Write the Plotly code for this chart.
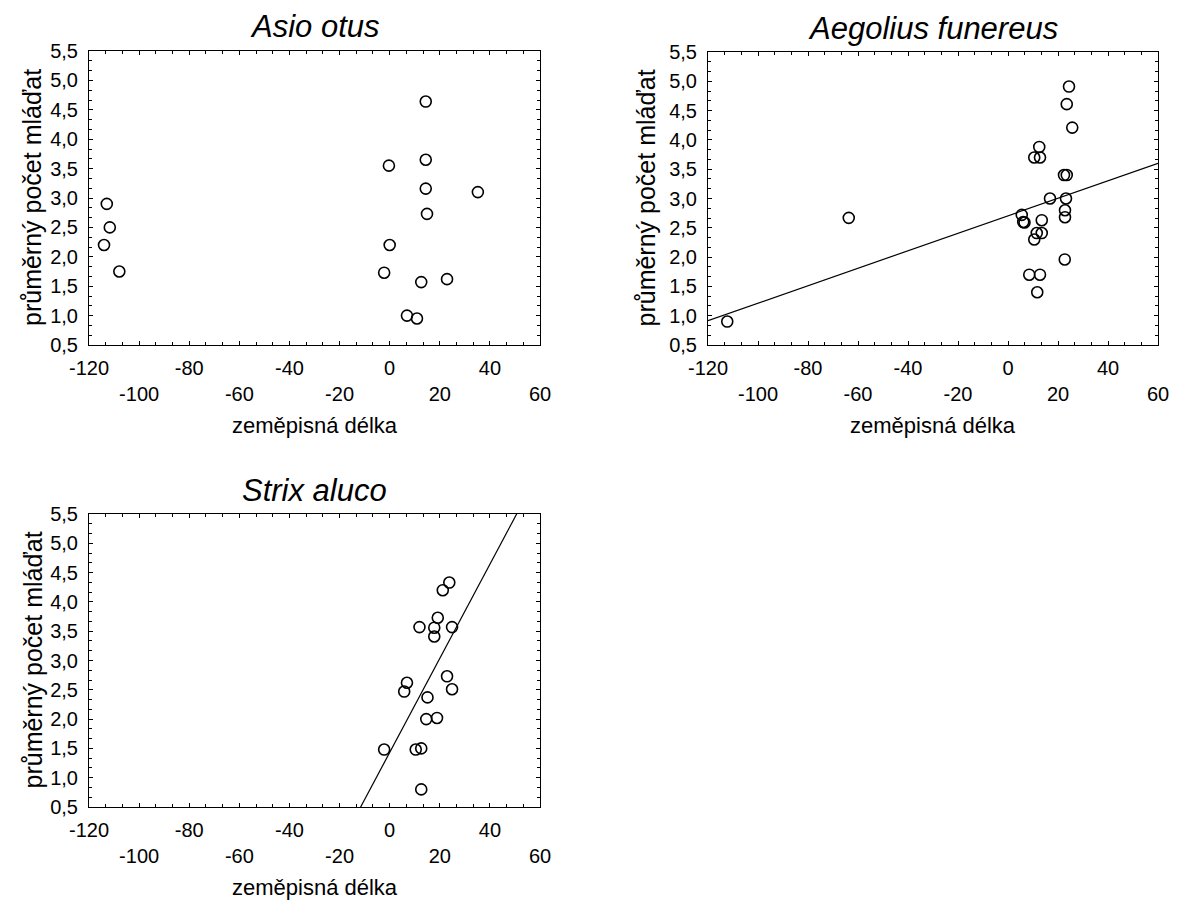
import plotly.graph_objects as go

W, H = 1181, 908

# ---------------- data ----------------
asio_x = [-112.9, -111.7, -114.0, -107.9, -0.3, 0.0, -2.2, 6.9, 10.9, 12.6,
          14.4, 14.4, 14.4, 14.9, 22.9, 35.2]
asio_y = [2.90, 2.50, 2.20, 1.75, 3.55, 2.20, 1.73, 1.00, 0.95, 1.57,
          4.64, 3.65, 3.16, 2.73, 1.62, 3.10]

aeg_x = [-112.3, -63.7, 5.5, 6.1, 6.6, 10.5, 12.5, 12.8, 10.5, 11.5,
         13.5, 13.5, 8.5, 12.8, 11.7, 16.8, 22.4, 23.5, 23.2, 22.8,
         22.8, 22.7, 24.4, 23.5, 25.7]
aeg_y = [0.90, 2.67, 2.72, 2.60, 2.59, 3.70, 3.88, 3.70, 2.30, 2.41,
         2.41, 2.63, 1.70, 1.70, 1.40, 3.00, 3.40, 3.40, 3.00, 2.80,
         2.68, 1.96, 4.91, 4.61, 4.21]
aeg_fit_slope = 0.01492
aeg_fit_intercept = 2.705

strix_x = [-2.2, 5.8, 6.9, 10.4, 12.6, 12.6, 11.9, 14.6, 15.1, 17.8,
           17.8, 19.2, 18.9, 21.2, 23.8, 22.9, 24.9, 24.9]
strix_y = [1.48, 2.47, 2.62, 1.48, 1.50, 0.80, 3.57, 2.00, 2.37, 3.56,
           3.41, 3.73, 2.02, 4.20, 4.33, 2.73, 2.51, 3.57]
strix_fit_slope = 0.0803
strix_fit_intercept = 1.43

x_tick_vals = [-120, -100, -80, -60, -40, -20, 0, 20, 40, 60]
y_tick_vals = [0.5, 1.0, 1.5, 2.0, 2.5, 3.0, 3.5, 4.0, 4.5, 5.0, 5.5]
x_range = [-120, 60]
y_range = [0.5, 5.5]

titles = ["Asio otus", "Aegolius funereus", "Strix aluco"]
x_title = "zeměpisná délka"
y_title = "průměrný počet mláďat"

# ---------------- layout helpers ----------------
FONT = "Liberation Sans, Arial, sans-serif"
panels_px = [  # x0, x1, y0(top), y1(bottom)
    (89, 540, 51, 345),
    (708, 1158, 52, 345),
    (89, 540, 514, 807),
]

def px2paper_x(v):
    return v / W

def px2paper_y(v):
    return 1 - v / H

x_ticktext = [(str(v) if i % 2 == 0 else "<br>" + str(v)) for i, v in enumerate(x_tick_vals)]

fig = go.Figure()

series = [
    (asio_x, asio_y, None),
    (aeg_x, aeg_y, (aeg_fit_slope, aeg_fit_intercept)),
    (strix_x, strix_y, (strix_fit_slope, strix_fit_intercept)),
]

annotations = []
for i, ((xs, ys, fit), (x0, x1, y0, y1)) in enumerate(zip(series, panels_px)):
    n = "" if i == 0 else str(i + 1)
    xa, ya = "x" + n, "y" + n
    if fit is not None:
        s, b = fit
        fx = [x_range[0], x_range[1]]
        fy = [b + s * v for v in fx]
        fig.add_trace(go.Scatter(x=fx, y=fy, mode="lines", xaxis=xa, yaxis=ya,
                                 line=dict(color="black", width=1.2),
                                 showlegend=False, hoverinfo="skip"))
    fig.add_trace(go.Scatter(x=xs, y=ys, mode="markers", xaxis=xa, yaxis=ya,
                             marker=dict(symbol="circle-open", size=11, color="black",
                                         line=dict(width=1.6, color="black")),
                             showlegend=False))
    axis_common = dict(showline=True, linecolor="black", linewidth=1, mirror="ticks",
                       ticks="inside", tickcolor="black", ticklen=4, tickwidth=1,
                       showgrid=False, zeroline=False, automargin=False,
                       tickfont=dict(family=FONT, size=20, color="black"))
    fig.layout["xaxis" + n] = dict(
        domain=[px2paper_x(x0), px2paper_x(x1)], anchor=ya, range=x_range,
        tickmode="array", tickvals=x_tick_vals, ticktext=x_ticktext,
        ticklabelstandoff=5,
        minor=dict(ticks="inside", dtick=20 / 3, tick0=-120, ticklen=3,
                   tickcolor="black", showgrid=False),
        **axis_common)
    fig.layout["yaxis" + n] = dict(
        domain=[px2paper_y(y1), px2paper_y(y0)], anchor=xa, range=y_range,
        tickmode="array", tickvals=y_tick_vals, tickformat=".1f",
        ticklabelstandoff=6,
        minor=dict(ticks="inside", dtick=0.5 / 3, tick0=0.5, ticklen=3,
                   tickcolor="black", showgrid=False),
        **axis_common)
    cx = (x0 + x1) / 2
    cy = (y0 + y1) / 2
    annotations.append(dict(text="<i>" + titles[i] + "</i>", x=px2paper_x(cx),
                            y=px2paper_y(y0 - 24),
                            xref="paper", yref="paper", showarrow=False,
                            xanchor="center", yanchor="middle",
                            font=dict(family=FONT, size=31, color="black")))
    annotations.append(dict(text=x_title, x=px2paper_x(cx), y=px2paper_y(y1 + 80),
                            xref="paper", yref="paper", showarrow=False,
                            xanchor="center", yanchor="middle",
                            font=dict(family=FONT, size=22, color="black")))
    annotations.append(dict(text=y_title, x=px2paper_x(x0 - 57 - (6 if i == 1 else 0)),
                            y=px2paper_y(cy),
                            xref="paper", yref="paper", showarrow=False, textangle=-90,
                            xanchor="center", yanchor="middle",
                            font=dict(family=FONT, size=25, color="black")))

fig.update_layout(width=W, height=H,
                  margin=dict(l=0, r=0, t=0, b=0, pad=0, autoexpand=False),
                  paper_bgcolor="white", plot_bgcolor="white",
                  separators=", ", annotations=annotations, showlegend=False,
                  font=dict(family=FONT, color="black"))

fig.write_html("out.html")
